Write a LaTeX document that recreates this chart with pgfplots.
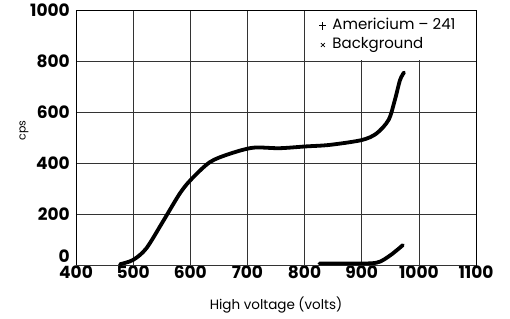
\documentclass[border=0pt]{standalone}
\usepackage{fontspec}
\setmainfont{Poppins}
\usepackage{pgfplots}
\pgfplotsset{compat=1.18}
\begin{document}
\begin{tikzpicture}
\begin{axis}[name=ax, width=400pt, height=255pt, scale only axis,
 xmin=400, xmax=1100, ymin=0, ymax=1000,
 xtick={400,500,...,1100}, ytick={200,400,...,1000},
 extra y ticks={0}, extra y tick style={yticklabel style={yshift=9pt}},
 grid=major, major grid style={black!80, line width=0.6pt},
 major tick length=0pt,
 axis line style={black, line width=0.8pt},
 /pgf/number format/assume math mode=true,
 /pgf/number format/1000 sep={},
 ticklabel style={font=\fontsize{17}{17}\selectfont\bfseries},
 xticklabel style={inner sep=0.5pt, yshift=-0.5pt},
 yticklabel style={inner sep=0pt, xshift=-6pt},
 xlabel={High voltage (volts)},
 xlabel style={font=\fontsize{13.5}{14}\selectfont, at={(rel axis cs:0.5,0)}, anchor=base, yshift=-44pt},
 ylabel={cps},
 ylabel style={font=\fontsize{11}{12}\selectfont, at={(rel axis cs:0,0.5)}, anchor=center, yshift=52pt, xshift=7pt},
 legend cell align=left,
 legend image code/.code={\draw[mark repeat=1,#1] plot coordinates {(3.5pt,0pt)};},
 legend style={at={(axis cs:800,1000)}, anchor=north west, xshift=0.5pt, yshift=-0.6pt,
   draw=none, fill=white, font=\fontsize{15}{15}\selectfont, row sep=0pt, column sep=4pt,
   inner xsep=14pt, inner ysep=5.7pt,
   nodes={text height=11pt, text depth=4pt, inner sep=2pt}},
]
\addlegendimage{only marks, mark=+, mark size=3.6pt, black, line width=1pt}
\addlegendentry{Americium -- 241}
\addlegendimage{only marks, mark=x, mark size=2.8pt, black, line width=0.7pt}
\addlegendentry{Background}
\addplot[forget plot, black, line width=3.8pt, smooth, tension=0.5, line cap=round] coordinates {
(477,3) (500,20) (523,65) (552,170) (581,278) (600,332) (634,403) (669,436)
(710,460) (756,458) (802,465) (844,471) (900,490) (926,516) (947,569)
(958,647) (967,725) (974,755)};
\addplot[forget plot, black, line width=3.8pt, smooth, tension=0.5, line cap=round] coordinates {
(826,6) (880,6) (926,9) (950,38) (972,78)};
\end{axis}
\pgfresetboundingbox
\path[use as bounding box] ([shift={(-76pt,-53pt)}]ax.south west) rectangle ([shift={(34pt,10pt)}]ax.north east);
\end{tikzpicture}
\end{document}
